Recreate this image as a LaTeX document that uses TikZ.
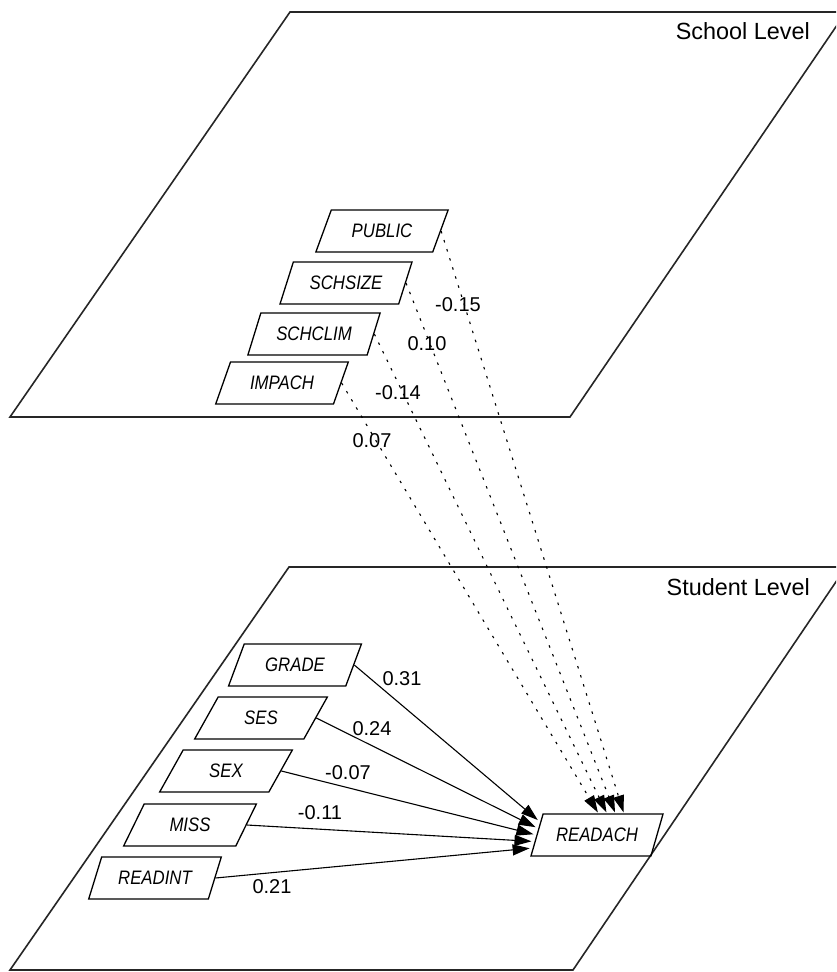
\documentclass[tikz,border=0pt]{standalone}
\usepackage{fontspec}
\setmainfont{Liberation Sans}
\newfontfamily\nodefont[FakeStretch=0.86]{Liberation Sans}
\usetikzlibrary{shapes.geometric,arrows.meta,calc}
\begin{document}
\begin{tikzpicture}[x=1pt,y=-1pt,
  varbox/.style={trapezium, draw, line width=1.3pt, trapezium left angle=56.3,
    trapezium right angle=123.7, trapezium stretches=true, minimum width=133pt,
    minimum height=42pt, inner sep=0pt,
    font=\nodefont\itshape\fontsize{19.5}{20}\selectfont},
  plane/.style={draw=black!85, line width=1.6pt, line join=miter},
  coef/.style={font=\fontsize{20}{22}\selectfont, inner sep=0pt},
  lvl/.style={font=\fontsize{23.4}{26}\selectfont, inner sep=0pt, anchor=base east},
  solidarrow/.style={line width=1.1pt, shorten >=3pt, -{Triangle[length=17pt,width=11pt]}},
  dotarrow/.style={line width=1.1pt, dash pattern=on 2.5pt off 7pt, shorten >=1pt,
    -{Triangle[length=17pt,width=11pt]}}
]
\useasboundingbox (0,0) rectangle (836,972);
\clip (0,0) rectangle (836,972);

% planes
\draw[plane] (290,12) -- (846,12) -- (570,417) -- (10,417) -- cycle;
\draw[plane] (289,567) -- (846,567) -- (573,970) -- (10,970) -- cycle;
\node[lvl] (schlvl) at (810,39) {School Level};
\node[lvl] (stulvl) at (810,595) {Student Level};

% school level
\node[varbox] (PUBLIC)  at (382,231) {PUBLIC};
\node[varbox] (SCHSIZE) at (346,283) {SCHSIZE};
\node[varbox] (SCHCLIM) at (314,334) {SCHCLIM};
\node[varbox] (IMPACH)  at (282,383) {IMPACH};

% student level
\node[varbox] (GRADE)   at (295,665) {GRADE};
\node[varbox] (SES)     at (261,718) {SES};
\node[varbox] (SEX)     at (226,771) {SEX};
\node[varbox] (MISS)    at (190,825) {MISS};
\node[varbox] (READINT) at (155,878) {READINT};
\node[varbox] (READACH) at (597,835) {READACH};

% cross-level paths
\draw[dotarrow] (IMPACH.east)  -- ($(READACH.top left corner)!0.46!(READACH.top right corner)$);
\draw[dotarrow] (SCHCLIM.east) -- ($(READACH.top left corner)!0.53!(READACH.top right corner)$);
\draw[dotarrow] (SCHSIZE.east) -- ($(READACH.top left corner)!0.60!(READACH.top right corner)$);
\draw[dotarrow] (PUBLIC.east)  -- ($(READACH.top left corner)!0.67!(READACH.top right corner)$);

% student paths
\draw[solidarrow] (GRADE.east)   -- ($(READACH.top left corner)!0.2!(READACH.bottom left corner)$);
\draw[solidarrow] (SES.east)     -- ($(READACH.top left corner)!0.35!(READACH.bottom left corner)$);
\draw[solidarrow] (SEX.east)     -- ($(READACH.top left corner)!0.5!(READACH.bottom left corner)$);
\draw[solidarrow] (MISS.east)    -- ($(READACH.top left corner)!0.65!(READACH.bottom left corner)$);
\draw[solidarrow] (READINT.east) -- ($(READACH.top left corner)!0.8!(READACH.bottom left corner)$);

% coefficients
\node[coef] (cPUB) at (458,305) {-0.15};
\node[coef] (cSIZE) at (427,344) {0.10};
\node[coef] (cCLIM) at (398,393) {-0.14};
\node[coef] (cIMP) at (372,441) {0.07};
\node[coef] (cGRA) at (402,679) {0.31};
\node[coef] (cSES) at (372,729) {0.24};
\node[coef] (cSEX) at (348,773) {-0.07};
\node[coef] (cMIS) at (320,813) {-0.11};
\node[coef] (cRIN) at (272,887) {0.21};
\end{tikzpicture}
\end{document}
